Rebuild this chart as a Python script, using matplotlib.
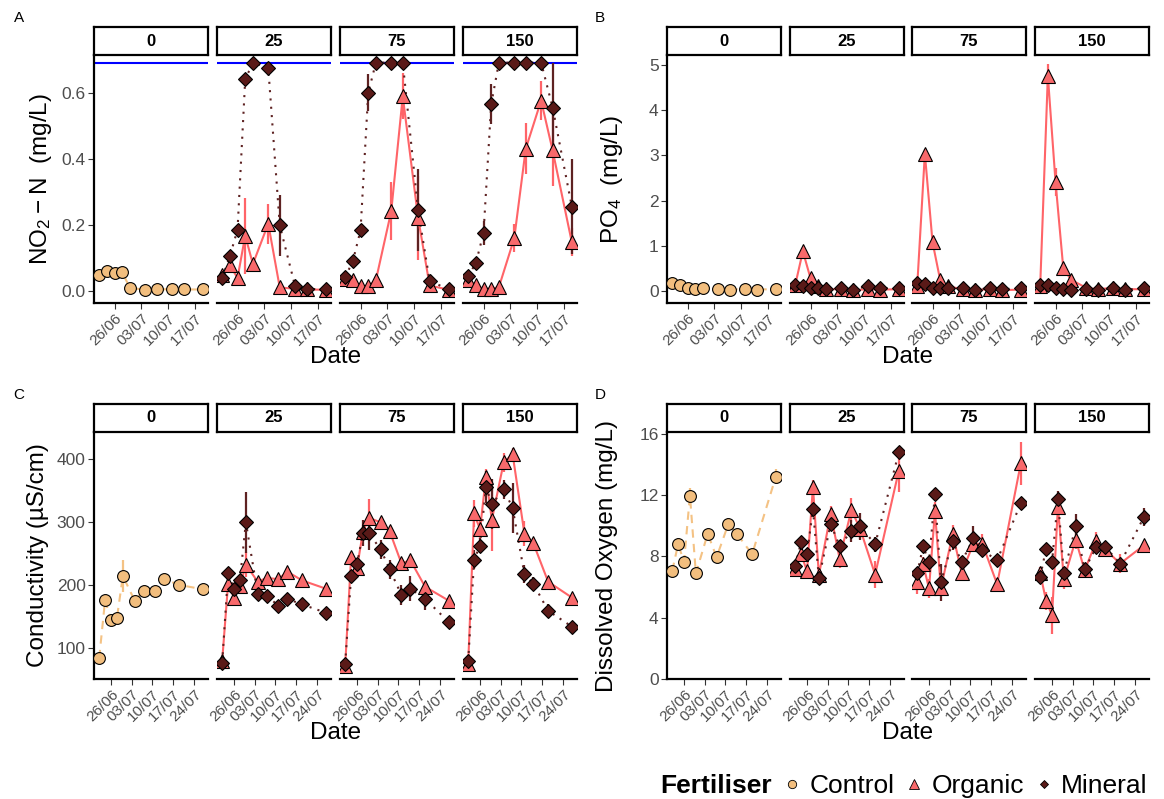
import numpy as np
import matplotlib.pyplot as plt
import matplotlib.dates as mdates
from matplotlib.lines import Line2D
from datetime import date

plt.rcParams['font.family'] = ['Liberation Sans', 'DejaVu Sans']
plt.rcParams['mathtext.fontset'] = 'custom'
plt.rcParams['mathtext.rm'] = 'Liberation Sans'

W, H = 1164, 799

# sampling dates (panels A/B have no last date)
dates_all = [date(2021, 6, 22), date(2021, 6, 24), date(2021, 6, 26), date(2021, 6, 28),
             date(2021, 6, 30), date(2021, 7, 4), date(2021, 7, 7), date(2021, 7, 11),
             date(2021, 7, 14), date(2021, 7, 19), date(2021, 7, 27)]
dates_ab = dates_all[:10]
dates_cd = dates_all
ticks_ab = [date(2021, 6, 26), date(2021, 7, 3), date(2021, 7, 10), date(2021, 7, 17)]
ticks_cd = ticks_ab + [date(2021, 7, 24)]
doses = [0, 25, 75, 150]

# NO2-N (mg/L)
no2_ctrl = [0.048, 0.060, 0.056, 0.057, 0.010, 0.004, 0.005, 0.006, 0.005, 0.005]
no2_ctrl_sd = [0.006, 0.005, 0.004, 0.006, 0.004, 0.002, 0.002, 0.002, 0.002, 0.002]
no2_org = {25: [0.050, 0.078, 0.040, 0.168, 0.082, 0.204, 0.011, 0.007, 0.005, 0.004],
           75: [0.038, 0.035, 0.015, 0.015, 0.033, 0.242, 0.590, 0.222, 0.017, 0.004],
           150: [0.033, 0.017, 0.007, 0.007, 0.012, 0.160, 0.431, 0.577, 0.426, 0.148]}
no2_org_sd = {25: [0.01, 0.02, 0.01, 0.115, 0.01, 0.06, 0.005, 0.003, 0.002, 0.002],
              75: [0.005, 0.005, 0.005, 0.005, 0.005, 0.088, 0.07, 0.127, 0.01, 0.003],
              150: [0.01, 0.005, 0.003, 0.003, 0.005, 0.043, 0.077, 0.06, 0.107, 0.043]}
no2_min = {25: [0.040, 0.106, 0.186, 0.641, 0.692, 0.677, 0.199, 0.015, 0.007, 0.005],
           75: [0.042, 0.091, 0.184, 0.600, 0.692, 0.692, 0.692, 0.245, 0.031, 0.005],
           150: [0.045, 0.085, 0.176, 0.566, 0.692, 0.692, 0.692, 0.692, 0.556, 0.256]}
no2_min_sd = {25: [0.005, 0.01, 0.01, 0.0, 0.0, 0.0, 0.093, 0.005, 0.003, 0.002],
              75: [0.01, 0.01, 0.018, 0.056, 0.0, 0.0, 0.0, 0.125, 0.01, 0.003],
              150: [0.01, 0.01, 0.035, 0.061, 0.0, 0.0, 0.0, 0.0, 0.136, 0.145]}
no2_limit = 0.69

# PO4 (mg/L)
po4_ctrl = [0.18, 0.14, 0.06, 0.045, 0.075, 0.04, 0.03, 0.05, 0.03, 0.045]
po4_ctrl_sd = [0.03] * 10
po4_org = {25: [0.13, 0.88, 0.28, 0.12, 0.04, 0.04, 0.02, 0.04, 0.03, 0.04],
           75: [0.10, 3.04, 1.08, 0.24, 0.10, 0.04, 0.02, 0.04, 0.02, 0.03],
           150: [0.10, 4.76, 2.41, 0.52, 0.25, 0.07, 0.04, 0.07, 0.04, 0.04]}
po4_org_sd = {25: [0.03, 0.05, 0.05, 0.02, 0.02, 0.02, 0.02, 0.02, 0.02, 0.02],
              75: [0.02, 0.1, 0.08, 0.05, 0.02, 0.02, 0.02, 0.02, 0.02, 0.02],
              150: [0.02, 0.25, 0.3, 0.1, 0.05, 0.02, 0.02, 0.02, 0.02, 0.02]}
po4_min = {25: [0.13, 0.12, 0.07, 0.06, 0.04, 0.06, 0.02, 0.12, 0.07, 0.06],
           75: [0.17, 0.15, 0.06, 0.06, 0.07, 0.06, 0.02, 0.07, 0.04, 0.06],
           150: [0.13, 0.14, 0.06, 0.04, 0.02, 0.04, 0.02, 0.06, 0.03, 0.06]}
po4_min_sd = {25: [0.03] * 10, 75: [0.03] * 10, 150: [0.03] * 10}

# Conductivity (uS/cm)
ec_ctrl = [84, 176, 144, 148, 214, 175, 191, 190, 209, 200, 193]
ec_ctrl_sd = [8, 8, 5, 5, 26, 5, 4, 4, 4, 3, 3]
ec_org = {25: [80, 202, 180, 198, 232, 205, 211, 209, 221, 207, 194],
          75: [72, 244, 227, 284, 306, 299, 285, 234, 239, 197, 175],
          150: [75, 313, 288, 371, 303, 394, 407, 281, 266, 205, 180]}
ec_org_sd = {25: [4, 8, 10, 8, 20, 6, 5, 5, 5, 6, 6],
             75: [4, 8, 8, 10, 30, 8, 8, 8, 8, 8, 8],
             150: [4, 22, 15, 12, 50, 15, 10, 20, 8, 8, 6]}
ec_min = {25: [77, 219, 193, 208, 299, 186, 183, 167, 178, 169, 156],
          75: [75, 214, 233, 282, 282, 256, 225, 184, 194, 178, 141],
          150: [79, 240, 262, 355, 328, 351, 322, 217, 202, 159, 134]}
ec_min_sd = {25: [4, 8, 8, 8, 48, 6, 5, 5, 5, 5, 5],
             75: [4, 8, 10, 20, 27, 15, 15, 16, 20, 18, 5],
             150: [4, 15, 12, 25, 40, 15, 40, 14, 10, 10, 8]}

# Dissolved oxygen (mg/L)
do_ctrl = [7.05, 8.78, 7.65, 11.96, 6.88, 9.47, 7.94, 10.12, 9.43, 8.13, 13.19]
do_ctrl_sd = [0.3, 0.4, 0.3, 0.5, 0.3, 0.3, 0.3, 0.4, 0.3, 0.3, 0.5]
do_org = {25: [7.20, 8.13, 7.03, 12.54, 6.77, 10.77, 7.85, 11.03, 9.75, 6.81, 13.58],
          75: [6.34, 7.48, 5.90, 10.92, 5.90, 9.47, 6.92, 8.82, 8.82, 6.18, 14.05],
          150: [6.88, 5.10, 4.15, 11.24, 6.49, 9.08, 7.09, 8.99, 8.45, 7.52, 8.71]}
do_org_sd = {25: [0.3, 0.5, 0.3, 0.4, 0.4, 0.5, 0.6, 0.8, 0.6, 0.9, 1.4],
             75: [0.8, 0.5, 0.6, 0.6, 0.5, 0.6, 0.4, 0.5, 0.6, 0.4, 1.4],
             150: [0.4, 0.6, 1.2, 0.5, 0.6, 0.6, 0.4, 0.6, 0.4, 0.6, 0.3]}
do_min = {25: [7.39, 8.91, 8.13, 11.09, 6.57, 10.10, 8.67, 9.64, 9.95, 8.78, 14.77],
          75: [6.88, 8.65, 7.63, 12.06, 6.31, 8.99, 7.63, 9.17, 8.39, 7.74, 11.46],
          150: [6.66, 8.50, 7.63, 11.74, 6.88, 9.95, 7.14, 8.61, 8.61, 7.52, 10.55]}
do_min_sd = {25: [0.3, 0.3, 0.3, 0.4, 0.3, 0.4, 0.4, 0.7, 0.9, 0.5, 0.3],
             75: [0.3, 0.3, 0.4, 0.4, 1.2, 0.6, 0.4, 0.8, 0.4, 0.3, 0.3],
             150: [0.3, 0.3, 0.3, 0.5, 0.3, 0.8, 0.4, 0.4, 0.3, 0.3, 0.6]}

C_CTRL, C_ORG, C_MIN = '#F2BE7E', '#F8696B', '#5A1A18'
L_CTRL, L_ORG, L_MIN = '#F4C284', '#FF6468', '#5E2222'

fig = plt.figure(figsize=(W / 100, H / 100), dpi=100)


def px_box(x0, x1, ytop, ybot):
    return [x0 / W, 1 - ybot / H, (x1 - x0) / W, (ybot - ytop) / H]


def draw_series(ax, x, y, sd, fill, lcol, ls, marker, ms):
    y = np.array(y, dtype=float)
    sd = np.array(sd, dtype=float)
    ax.vlines(x, y - sd, y + sd, color=lcol, lw=1.6, zorder=1)
    ax.plot(x, y, color=lcol, ls=ls, lw=1.5, zorder=2)
    ax.plot(x, y, ls='none', marker=marker, ms=ms, mfc=fill, mec='black',
            mew=0.8, zorder=3)


def panel(letter, letter_x, xlefts, strip_top, plot_top, plot_bot, dates, ticks,
          ylim, yticks, yticklabels, ylabel, ylab_x, ctrl, ctrl_sd,
          org, org_sd, mn, mn_sd, hline=None):
    x = mdates.date2num(dates)
    span = x[-1] - x[0]
    xlim = (x[0] - 0.05 * span, x[-1] + 0.05 * span)
    width = 114
    for i, dose in enumerate(doses):
        x0 = xlefts[i]
        ax = fig.add_axes(px_box(x0, x0 + width, plot_top, plot_bot))
        sax = fig.add_axes(px_box(x0, x0 + width, strip_top, plot_top))
        sax.set_xticks([])
        sax.set_yticks([])
        sax.set_facecolor('white')
        for s in sax.spines.values():
            s.set_linewidth(1.6)
            s.set_color('black')
        sax.text(0.5, 0.5, str(dose), ha='center', va='center',
                 fontsize=12, fontweight='bold', transform=sax.transAxes)

        if hline is not None:
            ax.axhline(hline, color='#0000FF', lw=1.5, zorder=0)
        if dose == 0:
            draw_series(ax, x, ctrl, ctrl_sd, C_CTRL, L_CTRL, (0, (4, 3)), 'o', 8.5)
        else:
            draw_series(ax, x, org[dose], org_sd[dose], C_ORG, L_ORG, '-', '^', 10)
            draw_series(ax, x, mn[dose], mn_sd[dose], C_MIN, L_MIN, (0, (1, 3)), 'D', 7.4)

        ax.set_xlim(xlim)
        ax.set_ylim(ylim)
        ax.spines['top'].set_visible(False)
        ax.spines['right'].set_visible(False)
        ax.spines['bottom'].set_linewidth(1.6)
        ax.set_xticks(mdates.date2num(ticks))
        ax.set_xticklabels([t.strftime('%d/%m') for t in ticks], rotation=45,
                           ha='right', rotation_mode='anchor', fontsize=11,
                           color='#4D4D4D')
        ax.tick_params(axis='x', length=4, width=0.8, color='#333333', pad=2)
        if i == 0:
            ax.spines['left'].set_linewidth(1.6)
            ax.set_yticks(yticks)
            ax.set_yticklabels(yticklabels, fontsize=12.5, color='#4D4D4D')
            ax.tick_params(axis='y', length=4, width=0.8, color='#333333', pad=2)
        else:
            ax.spines['left'].set_visible(False)
            ax.set_yticks([])
    cx = (xlefts[0] + xlefts[-1] + width) / 2
    fig.text(cx / W, 1 - (plot_bot + 54) / H, 'Date', ha='center', va='center',
             fontsize=17.5)
    fig.text(ylab_x / W, 1 - (plot_top + plot_bot) / 2 / H, ylabel, rotation=90,
             ha='center', va='center', fontsize=17.5)
    fig.text(letter_x / W, 1 - (strip_top - 9) / H, letter, ha='center',
             va='center', fontsize=11)


left_x = [94, 217, 340, 463]
right_x = [667, 790, 912, 1035]

panel('A', 19, left_x, 27, 55, 303, dates_ab, ticks_ab, (-0.036, 0.715),
      [0, 0.2, 0.4, 0.6], ['0.0', '0.2', '0.4', '0.6'],
      r'$\mathrm{NO_2-N}$  (mg/L)', 41,
      no2_ctrl, no2_ctrl_sd, no2_org, no2_org_sd, no2_min, no2_min_sd, hline=no2_limit)
panel('B', 600, right_x, 27, 55, 303, dates_ab, ticks_ab, (-0.265, 5.22),
      [0, 1, 2, 3, 4, 5], ['0', '1', '2', '3', '4', '5'],
      r'$\mathrm{PO_4}$  (mg/L)', 612,
      po4_ctrl, po4_ctrl_sd, po4_org, po4_org_sd, po4_min, po4_min_sd)
panel('C', 19, left_x, 404, 432, 679, dates_cd, ticks_cd, (51, 442),
      [100, 200, 300, 400], ['100', '200', '300', '400'],
      'Conductivity (µS/cm)', 38,
      ec_ctrl, ec_ctrl_sd, ec_org, ec_org_sd, ec_min, ec_min_sd)
panel('D', 600, right_x, 404, 432, 679, dates_cd, ticks_cd, (0, 16.1),
      [0, 4, 8, 12, 16], ['0', '4', '8', '12', '16'],
      'Dissolved Oxygen (mg/L)', 607,
      do_ctrl, do_ctrl_sd, do_org, do_org_sd, do_min, do_min_sd)

# legend
fig.text(660 / W, 1 - 786 / H, 'Fertiliser', fontsize=19, fontweight='bold',
         ha='left', va='center')
handles = [Line2D([], [], ls='none', marker='o', ms=6, mfc=C_CTRL, mec='black', mew=0.6),
           Line2D([], [], ls='none', marker='^', ms=7, mfc=C_ORG, mec='black', mew=0.6),
           Line2D([], [], ls='none', marker='D', ms=4.5, mfc=C_MIN, mec='black', mew=0.6)]
fig.legend(handles, ['Control', 'Organic', 'Mineral'], loc='center left',
           bbox_to_anchor=(783 / W, 1 - 786 / H), ncol=3, frameon=False,
           fontsize=19, handlelength=0.7, handletextpad=0.3, columnspacing=0.4,
           borderpad=0, borderaxespad=0)

fig.savefig('out.png', dpi=100)
